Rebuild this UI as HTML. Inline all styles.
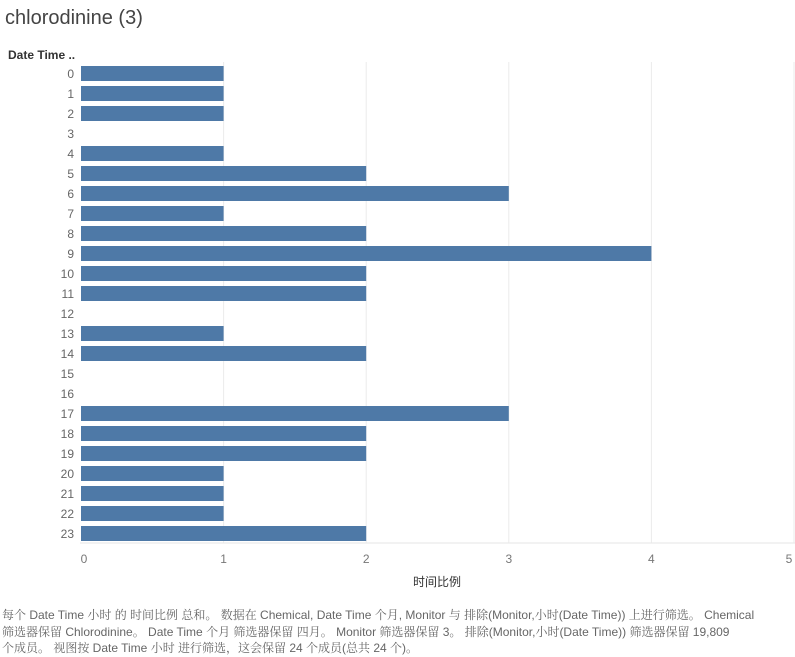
<!DOCTYPE html>
<html><head><meta charset="utf-8"><style>
body{margin:0;background:#fff;width:795px;height:657px;overflow:hidden;font-family:"Liberation Sans","Noto Sans CJK SC",sans-serif}
#title{position:absolute;left:5px;top:7px;font-size:20px;color:#444;font-weight:300}
#foot{position:absolute;left:2px;top:607px;font-size:12px;line-height:16.5px;color:#666;white-space:nowrap;font-family:"Liberation Sans","Noto Serif CJK SC",serif}
</style></head><body>
<div id="title">chlorodinine (3)</div>
<svg id="chart" width="795" height="600" style="position:absolute;left:0;top:0"></svg>
<div id="foot">每个 Date Time 小时 的 时间比例 总和。 数据在 Chemical, Date Time 个月, Monitor 与 排除(Monitor,小时(Date Time)) 上进行筛选。 Chemical<br>筛选器保留 Chlorodinine。 Date Time 个月 筛选器保留 四月。 Monitor 筛选器保留 3。 排除(Monitor,小时(Date Time)) 筛选器保留 19,809<br>个成员。 视图按 Date Time 小时 进行筛选，这会保留 24 个成员(总共 24 个)。</div>
<script>
const categories=["0","1","2","3","4","5","6","7","8","9","10","11","12","13","14","15","16","17","18","19","20","21","22","23"];
const values=[1,1,1,0,1,2,3,1,2,4,2,2,0,1,2,0,0,3,2,2,1,1,1,2];
const ticks=[0,1,2,3,4,5];
const NS="http://www.w3.org/2000/svg";
const svg=document.getElementById('chart');
const x=v=>81+v*142.6;
const y=i=>66+i*20;
function mk(t,a){const e=document.createElementNS(NS,t);for(const k in a)e.setAttribute(k,a[k]);svg.appendChild(e);return e;}
ticks.forEach(t=>{
 if(t>0){const g=mk('line',{x1:x(t),x2:x(t),y1:62,y2:543,stroke:'#ebebeb'});
 
 }
 const l=mk('text',{x:t==5?789:x(t)+(t==0?3:0),y:563,'text-anchor':'middle','font-size':12,fill:'#777'});
 l.textContent=t;
 
 
});
const ax=mk('line',{x1:80,x2:795,y1:543,y2:543,stroke:'#e6e6e6'});


const at=mk('text',{x:437,y:586,'text-anchor':'middle','font-size':12,fill:'#333'});
at.textContent='时间比例';


const hd=mk('text',{x:8,y:59,'font-size':12,'font-weight':'bold',fill:'#333'});
hd.textContent='Date Time ..';


categories.forEach((c,i)=>{
 const t=mk('text',{x:74,y:y(i)+12,'text-anchor':'end','font-size':12,fill:'#666'});
 t.textContent=c;
 
 
 if(values[i]>0){const r=mk('rect',{x:x(0),y:y(i),width:x(values[i])-x(0),height:15,fill:'#4e79a7'});
 
 }
});
</script>
</body></html>
